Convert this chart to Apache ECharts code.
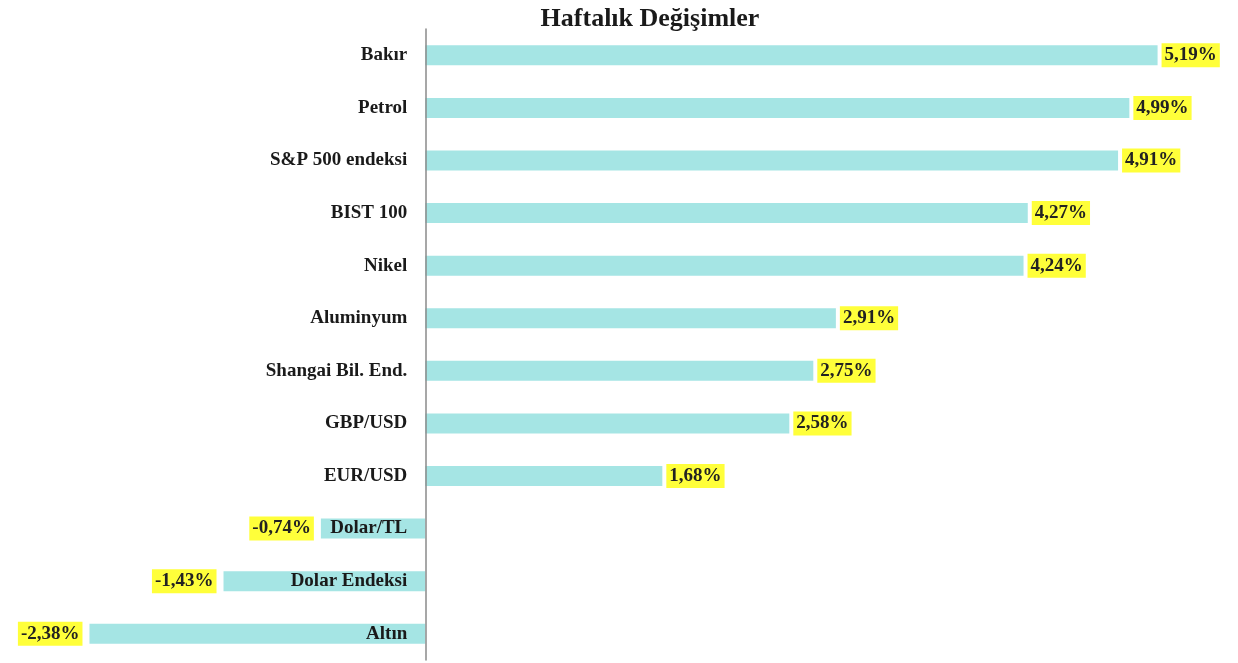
<!DOCTYPE html>
<html lang="tr">
<head>
  <meta charset="UTF-8">
  <title>Haftalık Değişimler</title>
  <style>
    html, body { margin: 0; padding: 0; background: #fff; }
    #chart { width: 1238px; height: 663px; }
  </style>
</head>
<body>
  <script src="https://cdn.jsdelivr.net/npm/echarts@6/dist/echarts.min.js"></script>
  <div id="chart"></div>
  <script>
    let chart = echarts.init(document.getElementById('chart'))

    // haftalık değişim (%)
    var categories = ['Bakır', 'Petrol', 'S&P 500 endeksi', 'BIST 100', 'Nikel', 'Aluminyum',
      'Shangai Bil. End.', 'GBP/USD', 'EUR/USD', 'Dolar/TL', 'Dolar Endeksi', 'Altın']
    var values = [5.19, 4.99, 4.91, 4.27, 4.24, 2.91, 2.75, 2.58, 1.68, -0.74, -1.43, -2.38]

    var font = '"Liberation Serif", "DejaVu Serif", serif'
    var gridLeft = 2

    var option = {
      backgroundColor: '#fff',
      animation: false,
      title: {
        text: 'Haftalık Değişimler',
        left: 645,
        top: 1,
        textAlign: 'center',
        textStyle: { fontFamily: font, fontWeight: 'bold', fontSize: 26, color: '#1a1a1a' }
      },
      grid: {
        left: gridLeft, right: 0, top: 29, bottom: 3,
        containLabel: false, outerBoundsMode: 'none'
      },
      xAxis: {
        type: 'value',
        min: -3,
        max: 5.76,
        show: false
      },
      yAxis: {
        type: 'category',
        inverse: true,
        data: categories,
        z: 5,
        axisLine: { onZero: false, lineStyle: { color: '#8a8a8a', width: 1.5 } },
        axisTick: { show: false },
        axisLabel: {
          margin: 18,
          fontFamily: font,
          fontWeight: 'bold',
          fontSize: 19,
          color: '#1a1a1a'
        }
      },
      series: [{
        type: 'bar',
        barWidth: 20,
        itemStyle: { color: '#a5e5e4' },
        label: {
          show: true,
          position: 'right',
          distance: 4,
          fontFamily: font,
          fontWeight: 'bold',
          fontSize: 19,
          color: '#222',
          backgroundColor: '#ffff3a',
          padding: [3, 3, 2, 3],
          formatter: function (p) {
            return p.value.toFixed(2).replace('.', ',') + '%'
          }
        },
        // negatif değerler için etiket solda
        data: values.map(function (v) {
          return v < 0 ? { value: v, label: { position: 'left', distance: 7 } } : v
        })
      }]
    }
    chart.setOption(option)

    // kategori ekseni sıfır çizgisinde dursun (etiketlerle birlikte)
    var zeroX = chart.convertToPixel({ xAxisIndex: 0 }, 0)
    chart.setOption({ yAxis: { offset: gridLeft - zeroX } })
  </script>
</body>
</html>
